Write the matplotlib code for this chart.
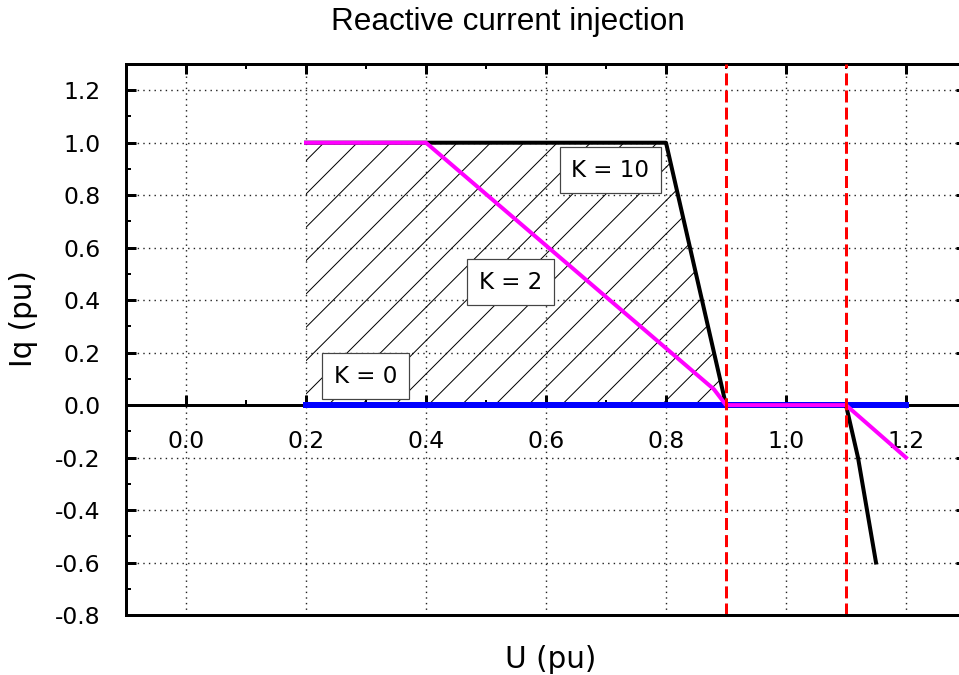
import matplotlib
matplotlib.use("Agg")
import matplotlib.pyplot as plt
from matplotlib.ticker import MultipleLocator

DPI = 200
PX = 72.0 / DPI  # one pixel in points

# characteristic curves
u_k10 = [0.2, 0.4, 0.8, 0.86, 0.9, 1.1, 1.12, 1.15]
iq_k10 = [1.0, 1.0, 1.0, 0.4, 0.0, 0.0, -0.2, -0.6]
u_k2 = [0.2, 0.4, 0.88, 0.9, 1.1, 1.2]
iq_k2 = [1.0, 1.0, 0.06, 0.0, 0.0, -0.2]
u_k0 = [0.2, 1.2]
iq_k0 = [0.0, 0.0]
dead_band = [0.9, 1.1]

labels = ["K = 10", "K = 2", "K = 0"]
label_u = [0.707, 0.541, 0.299]
label_iq = [0.895, 0.468, 0.11]

x_ticks = [0.0, 0.2, 0.4, 0.6, 0.8, 1.0, 1.2]
y_ticks = [-0.8, -0.6, -0.4, -0.2, 0.0, 0.2, 0.4, 0.6, 0.8, 1.0, 1.2]

plt.rcParams["font.family"] = "DejaVu Sans"
plt.rcParams["hatch.linewidth"] = 1.0 * PX

fig = plt.figure(figsize=(959 / DPI, 675 / DPI), dpi=DPI)
ax = fig.add_axes([126 / 959, 1 - 615 / 675, (966 - 126) / 959, (615 - 64) / 675])

ax.set_xlim(-0.1, 1.3)
ax.set_ylim(-0.8, 1.3)

# hatched area between K=0 and K=10 below the dead band
n = u_k10.index(dead_band[0]) + 1
ax.fill_between(u_k10[:n], iq_k0[0], iq_k10[:n], facecolor="none",
                edgecolor="black", hatch="//", linewidth=0, zorder=1)

ax.plot(u_k0, iq_k0, color="#0000ff", lw=6 * PX, zorder=3)
ax.plot(u_k10, iq_k10, color="black", lw=4 * PX, zorder=4)
ax.plot(u_k2, iq_k2, color="#ff00ff", lw=4 * PX, zorder=5)
for u in dead_band:
    ax.axvline(u, color="#ff0000", lw=3 * PX, dashes=(4, 1.7), zorder=6)

for txt, x, y in zip(labels, label_u, label_iq):
    ax.text(x, y, txt, ha="center", va="center", fontsize=23 * PX, zorder=7,
            bbox=dict(boxstyle="square,pad=0.5", fc="white", ec="#444444", lw=1.2 * PX))

# axis through zero, frame line at the bottom
for s in ["left", "top", "right", "bottom"]:
    ax.spines[s].set_linewidth(3 * PX)
ax.spines["bottom"].set_position(("data", 0))
ax.plot([0, 1], [0, 0], transform=ax.transAxes, color="black", lw=3 * PX,
        clip_on=False, zorder=8)

ax.set_xticks(x_ticks)
ax.set_xticklabels([f"{v:.1f}" for v in x_ticks])
ax.set_yticks(y_ticks)
ax.set_yticklabels([f"{v:.1f}" for v in y_ticks])
ax.xaxis.set_minor_locator(MultipleLocator(0.1))
ax.yaxis.set_minor_locator(MultipleLocator(0.1))

ax.tick_params(which="both", direction="in", top=True, right=True,
               labelsize=23.5 * PX, pad=9)
ax.tick_params(which="major", length=10 * PX, width=3 * PX)
ax.tick_params(which="minor", length=5 * PX, width=2 * PX)
ax.tick_params(axis="y", which="minor", right=False)

ax.grid(True, which="major", color="#222222", lw=1.4 * PX, linestyle=(0, (1, 3)))
ax.set_axisbelow(True)

fig.text(508 / 959, 1 - 30 / 675, "Reactive current injection", ha="center",
         va="baseline", fontsize=31.5 * PX, family="Liberation Sans")
fig.text(551 / 959, 1 - 659 / 675, "U (pu)", ha="center", va="center", fontsize=29.6 * PX)
fig.text(24 / 959, 1 - 319 / 675, "Iq (pu)", ha="center", va="center",
         rotation=90, fontsize=29.6 * PX)

fig.savefig("out.png", dpi=DPI)
